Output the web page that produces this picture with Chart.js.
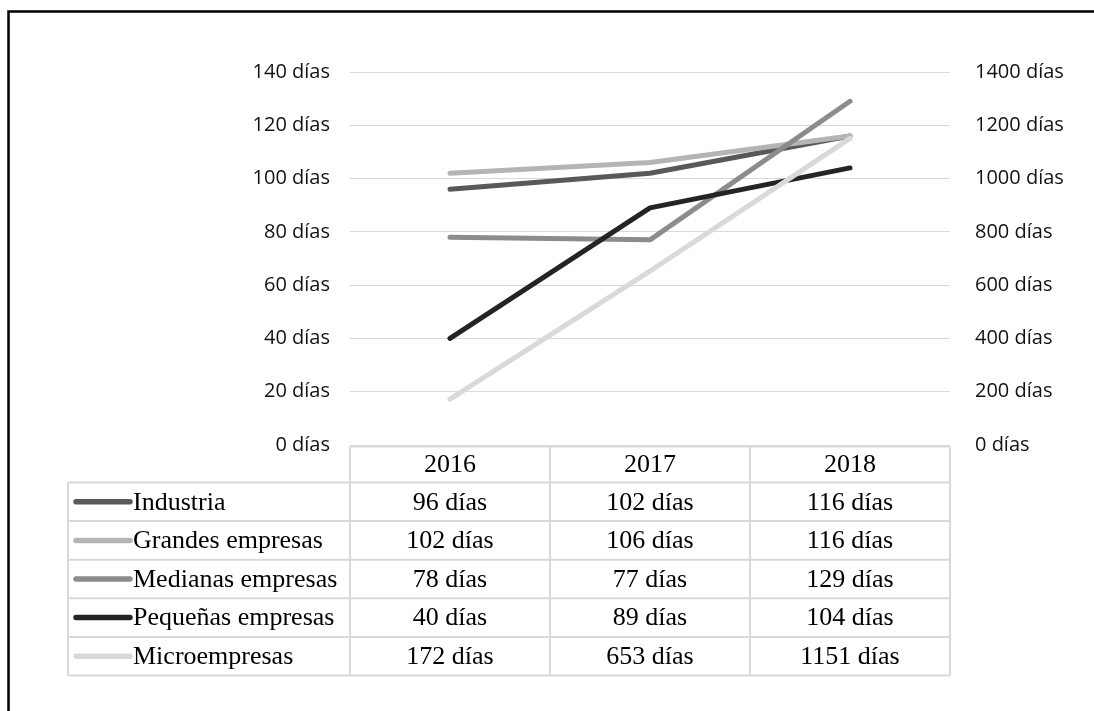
<!DOCTYPE html>
<html>
<head>
<meta charset="utf-8">
<script src="https://cdn.jsdelivr.net/npm/chart.js@4/dist/chart.umd.min.js"></script>
<style>
  html, body { margin: 0; padding: 0; background: #fff; }
  canvas { display: block; }
</style>
</head>
<body>
<canvas id="c" width="1094" height="711"></canvas>
<script>
// Years and series (días)
const categories = ['2016', '2017', '2018'];
const seriesNames = ['Industria', 'Grandes empresas', 'Medianas empresas', 'Pequeñas empresas', 'Microempresas'];
const industria = [96, 102, 116];
const grandes = [102, 106, 116];
const medianas = [78, 77, 129];
const pequenas = [40, 89, 104];
const micro = [172, 653, 1151];   // plotted on the right axis
const leftTicks = [0, 20, 40, 60, 80, 100, 120, 140];
const rightTicks = [0, 200, 400, 600, 800, 1000, 1200, 1400];

const seriesColors = ['#595959', '#b4b4b4', '#8c8c8c', '#242424', '#d9d9d9'];
const seriesValues = [industria, grandes, medianas, pequenas, micro];
const seriesAxis = ['y', 'y', 'y', 'y', 'y1'];

const fmt = v => v + ' días';
const AXIS_FONT = { family: '"Open Sans", sans-serif', size: 20 };
const TABLE_FONT = '26px "Liberation Serif", "Times New Roman", serif';

// Page frame and white background
const framePlugin = {
  id: 'frame',
  beforeDraw(chart) {
    const ctx = chart.ctx;
    ctx.save();
    ctx.fillStyle = '#fff';
    ctx.fillRect(0, 0, chart.width, chart.height);
    ctx.strokeStyle = '#000';
    ctx.lineWidth = 2.5;
    ctx.beginPath();
    ctx.moveTo(8.5, chart.height + 5);
    ctx.lineTo(8.5, 11.5);
    ctx.lineTo(chart.width + 5, 11.5);
    ctx.stroke();
    ctx.restore();
  }
};

// Data table under the plot, with line keys in the first column
const tablePlugin = {
  id: 'dataTable',
  afterDraw(chart) {
    const ctx = chart.ctx;
    const area = chart.chartArea;
    const xs = chart.scales.x;
    const colW = xs.getPixelForValue(1) - xs.getPixelForValue(0);
    const tableLeft = 68;
    const top = area.bottom + 1.5;
    const headerH = 36;
    const rowH = 38.6;
    const bottom = top + headerH + rowH * seriesNames.length;
    const colEdges = categories.map((_, i) => xs.getPixelForValue(i) - colW / 2);
    colEdges.push(xs.getPixelForValue(categories.length - 1) + colW / 2);

    ctx.save();
    ctx.strokeStyle = '#d9d9d9';
    ctx.lineWidth = 2;
    ctx.beginPath();
    // header top line over the year columns
    ctx.moveTo(colEdges[0], top);
    ctx.lineTo(colEdges[colEdges.length - 1], top);
    // row lines
    for (let r = 0; r <= seriesNames.length; r++) {
      const y = top + headerH + r * rowH;
      ctx.moveTo(tableLeft, y);
      ctx.lineTo(colEdges[colEdges.length - 1], y);
    }
    // vertical lines
    ctx.moveTo(tableLeft, top + headerH);
    ctx.lineTo(tableLeft, bottom);
    colEdges.forEach(x => {
      ctx.moveTo(x, top);
      ctx.lineTo(x, bottom);
    });
    ctx.stroke();

    ctx.font = TABLE_FONT;
    ctx.fillStyle = '#000';
    ctx.textBaseline = 'middle';
    ctx.textAlign = 'center';
    categories.forEach((c, i) => {
      ctx.fillText(c, xs.getPixelForValue(i), top + headerH / 2 + 1);
    });

    seriesNames.forEach((name, r) => {
      const cy = top + headerH + r * rowH + rowH / 2;
      // line key
      ctx.strokeStyle = seriesColors[r];
      ctx.lineWidth = 5.5;
      ctx.lineCap = 'round';
      ctx.beginPath();
      ctx.moveTo(76, cy);
      ctx.lineTo(130, cy);
      ctx.stroke();
      ctx.textAlign = 'left';
      ctx.fillStyle = '#000';
      ctx.fillText(name, 133, cy + 1);
      ctx.textAlign = 'center';
      seriesValues[r].forEach((v, i) => {
        ctx.fillText(fmt(v), xs.getPixelForValue(i), cy + 1);
      });
    });
    ctx.restore();
  }
};

const datasets = seriesNames.map((name, i) => ({
  label: name,
  data: seriesValues[i],
  yAxisID: seriesAxis[i],
  borderColor: seriesColors[i],
  backgroundColor: seriesColors[i],
  borderWidth: 5,
  borderCapStyle: 'round',
  borderJoinStyle: 'round',
  pointRadius: 0,
  tension: 0,
  fill: false,
  order: seriesNames.length - i
}));

new Chart(document.getElementById('c'), {
  type: 'line',
  data: { labels: categories, datasets },
  options: {
    responsive: false,
    animation: false,
    events: [],
    layout: { padding: { top: 72, bottom: 266, left: 0, right: 0 } },
    plugins: { legend: { display: false }, tooltip: { enabled: false } },
    scales: {
      x: { display: false, offset: true },
      y: {
        position: 'left',
        min: leftTicks[0],
        max: leftTicks[leftTicks.length - 1],
        afterFit(s) { s.width = 350; },
        afterBuildTicks(s) { s.ticks = leftTicks.map(v => ({ value: v })); },
        border: { display: false },
        grid: { color: '#d9d9d9', lineWidth: 1, drawTicks: false },
        ticks: { padding: 20, color: '#111', font: AXIS_FONT, callback: fmt }
      },
      y1: {
        position: 'right',
        min: rightTicks[0],
        max: rightTicks[rightTicks.length - 1],
        afterFit(s) { s.width = 144; },
        afterBuildTicks(s) { s.ticks = rightTicks.map(v => ({ value: v })); },
        border: { display: false },
        grid: { display: false, drawTicks: false },
        ticks: { padding: 25, color: '#111', font: AXIS_FONT, callback: fmt }
      }
    }
  },
  plugins: [framePlugin, tablePlugin]
});
</script>
</body>
</html>
